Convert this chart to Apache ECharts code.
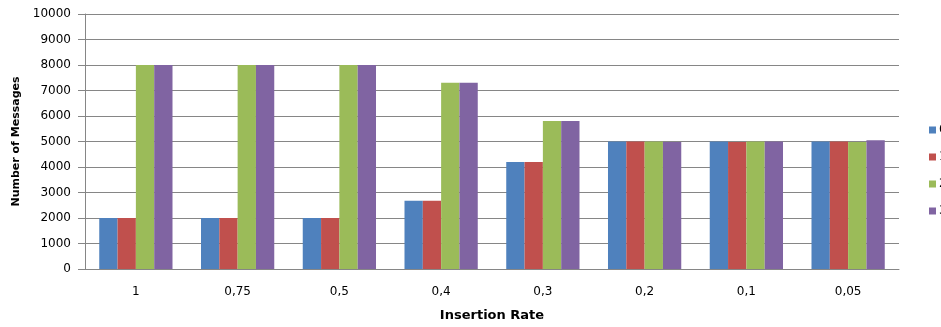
<!DOCTYPE html>
<html>
<head>
<meta charset="utf-8">
<script src="https://cdn.jsdelivr.net/npm/echarts@6/dist/echarts.min.js"></script>
<style>
  html, body { margin: 0; padding: 0; background: #fff; }
  #chart { width: 941px; height: 327px; }
</style>
</head>
<body>
<div id="chart"></div>
<script>
// Insertion rates on the category axis
const categories = ['1', '0,75', '0,5', '0,4', '0,3', '0,2', '0,1', '0,05'];

// Message counts per series
const series0 = [2000, 2000, 2000, 2680, 4200, 5000, 5000, 5000];
const series1 = [2000, 2000, 2000, 2680, 4200, 5000, 4980, 5000];
const series2 = [8000, 8000, 8000, 7300, 5800, 5000, 5000, 4980];
const series3 = [8000, 8000, 8000, 7300, 5800, 4980, 5000, 5050];

const seriesNames = ['0', '1', '2', '3'];
const seriesColors = ['#4F81BD', '#C0504D', '#9BBB59', '#8064A2'];

const yTicks = { min: 0, max: 10000, interval: 1000 };

const font = '"DejaVu Sans", "Liberation Sans", sans-serif';

const chart = echarts.init(document.getElementById('chart'), null, { renderer: 'canvas' });

const allValues = [series0, series1, series2, series3];

chart.setOption({
  backgroundColor: '#ffffff',
  animation: false,
  color: seriesColors,
  grid: { left: 85, right: 42, top: 14, bottom: 56, containLabel: false },
  legend: {
    orient: 'vertical',
    left: 924,
    top: 119,
    itemWidth: 7,
    itemHeight: 7,
    itemGap: 15,
    icon: 'rect',
    textStyle: { fontFamily: font, fontSize: 12, color: '#000', padding: [0, 0, 0, -2] },
    data: seriesNames
  },
  xAxis: {
    type: 'category',
    data: categories,
    name: 'Insertion Rate',
    nameLocation: 'middle',
    nameGap: 40,
    nameTextStyle: { fontFamily: font, fontSize: 13, fontWeight: 'bold', color: '#000' },
    axisLine: { show: true, lineStyle: { color: '#868686', width: 1 } },
    axisTick: { show: false },
    axisLabel: { fontFamily: font, fontSize: 12, color: '#000', margin: 17 },
    splitLine: { show: false }
  },
  yAxis: {
    type: 'value',
    min: yTicks.min,
    max: yTicks.max,
    interval: yTicks.interval,
    name: 'Number of Messages',
    nameLocation: 'middle',
    nameRotate: 90,
    nameGap: 62,
    nameTextStyle: { fontFamily: font, fontSize: 11, fontWeight: 'bold', color: '#000' },
    axisLine: { show: true, lineStyle: { color: '#868686', width: 1 } },
    axisTick: { show: true, inside: false, length: 7, lineStyle: { color: '#868686' } },
    axisLabel: { fontFamily: font, fontSize: 12, color: '#000', margin: 14, formatter: v => String(v) },
    splitLine: { show: true, lineStyle: { color: '#868686', width: 1 } }
  },
  series: seriesNames.map((name, i) => ({
    name: name,
    type: 'bar',
    data: allValues[i],
    barGap: '0%',
    barCategoryGap: '28%',
    itemStyle: { color: seriesColors[i] }
  }))
});
</script>
</body>
</html>
